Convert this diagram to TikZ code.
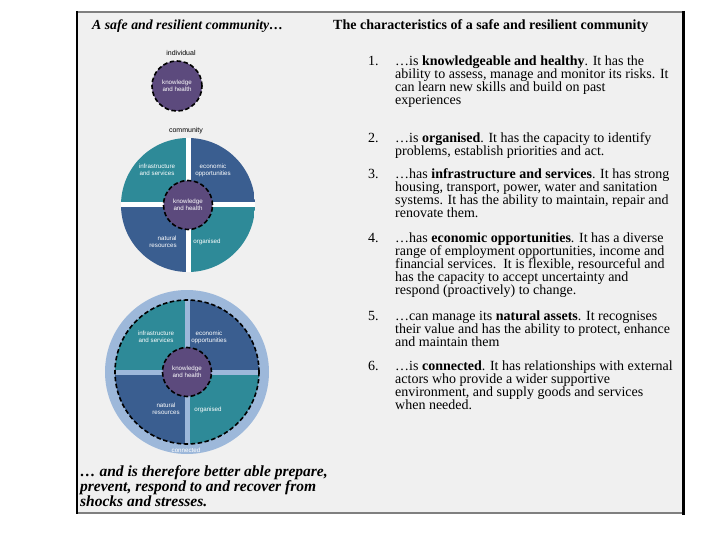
\documentclass[tikz,border=0pt]{standalone}
\usepackage{fontspec}
\setmainfont{Liberation Serif}
\newfontfamily\circfont{Liberation Sans}
\definecolor{pageback}{HTML}{F0F0F0}
\definecolor{framegray}{HTML}{7F7F7F}
\definecolor{corepurple}{HTML}{5C4A7D}
\definecolor{quadteal}{HTML}{2E8A98}
\definecolor{quadblue}{HTML}{3A5E90}
\definecolor{ringblue}{HTML}{9DB8DA}
\newcommand\itemstrut{\rule{0pt}{10pt}}
\newcommand\concstrut{\rule{0pt}{11.5pt}}
\begin{document}
\begin{tikzpicture}[x=1pt,y=-1pt,
  itemtext/.style={font=\fontsize{14}{13}\selectfont, align=left, anchor=north west, inner sep=0pt},
  numtext/.style={font=\fontsize{14}{13}\selectfont, anchor=north west, inner sep=0pt},
  titletext/.style={anchor=base west, inner sep=0pt},
  circlabel/.style={font=\circfont\fontsize{6.2}{6.8}\selectfont, text=white, align=center, inner sep=0pt},
  toplabel/.style={font=\circfont\fontsize{7}{8}\selectfont, inner sep=0pt},
  dashborder/.style={draw=black, line width=1.6pt, dash pattern=on 4.5pt off 2.5pt},
  coredisk/.style={circle, fill=corepurple, dashborder, minimum size=#1, inner sep=0pt},
  quaddisk/.style={circle, minimum size=#1, inner sep=0pt, path picture={
     \fill[quadteal] (path picture bounding box.center) rectangle (path picture bounding box.north west);
     \fill[quadblue] (path picture bounding box.center) rectangle (path picture bounding box.north east);
     \fill[quadblue] (path picture bounding box.center) rectangle (path picture bounding box.south west);
     \fill[quadteal] (path picture bounding box.center) rectangle (path picture bounding box.south east);}},
  gapline/.style={draw=#1, line width=5pt},
]
\useasboundingbox (0,0) rectangle (720,540);
\fill[white] (0,0) rectangle (720,540);
% frame
\fill[pageback] (77,12) rectangle (684,513);
\draw[framegray, line width=2pt] (77,12) -- (684,12);
\draw[framegray, line width=2.5pt] (77,513) -- (684,513);
\draw[black, line width=2pt] (77,11) -- (77,514);
\draw[black, line width=2.5pt] (683.5,11) -- (683.5,514.5);

% titles
\node[titletext, font=\fontsize{13.8}{15}\selectfont\bfseries\itshape] (lefttitle) at (92,30) {A safe and resilient community…};
\node[titletext, font=\fontsize{14}{15}\selectfont\bfseries] (righttitle) at (333,30) {The characteristics of a safe and resilient community};

% individual
\node[toplabel] (indivlabel) at (181,53) {individual};
\node[coredisk=50pt] (indiv) at (177,86) {};
\node[circlabel] (indivtext) at (indiv) {knowledge\\and health};

% community
\node[toplabel] (commlabel) at (186,131) {community};
\node[quaddisk=134pt] (comm) at (188,205) {};
\draw[gapline=white] (comm.north) -- (comm.south);
\draw[gapline=white] (comm.west) -- (comm.east);
\node[coredisk=49pt] (commcore) at (comm) {};
\node[circlabel] (commcoretext) at (comm) {knowledge\\and health};
\node[circlabel] (comminfra) at (157,170) {infrastructure\\and services};
\node[circlabel] (commecon) at (213,170) {economic\\opportunities};
\node[circlabel, align=right] (commnat) at (163,242) {natural\\resources};
\node[circlabel] (commorg) at (207,242) {organised};

% connected community
\node[circle, fill=ringblue, minimum size=164pt, inner sep=0pt] (ring) at (187,372) {};
\node[quaddisk=144pt] (disk) at (ring) {};
\draw[gapline=ringblue] (disk.north) -- (disk.south);
\draw[gapline=ringblue] (disk.west) -- (disk.east);
\node[circle, minimum size=144pt, inner sep=0pt, dashborder] (diskrim) at (ring) {};
\node[coredisk=49pt] (diskcore) at (ring) {};
\node[circlabel] (diskcoretext) at (ring) {knowledge\\and health};
\node[circlabel] (diskinfra) at (156,337) {infrastructure\\and services};
\node[circlabel] (diskecon) at (209,337) {economic\\opportunities};
\node[circlabel] (disknat) at (166,409) {natural\\resources};
\node[circlabel] (diskorg) at (208,410) {organised};
\node[circlabel] (ringtext) at (186,450) {connected};

% list
\node[numtext] (n1) at (368,55.5) {\itemstrut 1.};
\node[itemtext] (t1) at (395,55.5) {\itemstrut …is \textbf{knowledgeable and healthy}. It has the\\ability to assess, manage and monitor its risks. It\\can learn new skills and build on past\\experiences};
\node[numtext] (n2) at (368,132) {\itemstrut 2.};
\node[itemtext] (t2) at (395,132) {\itemstrut …is \textbf{organised}. It has the capacity to identify\\problems, establish priorities and act.};
\node[numtext] (n3) at (368,168.5) {\itemstrut 3.};
\node[itemtext] (t3) at (395,168.5) {\itemstrut …has \textbf{infrastructure and services}. It has strong\\housing, transport, power, water and sanitation\\systems. It has the ability to maintain, repair and\\renovate them.};
\node[numtext] (n4) at (368,232) {\itemstrut 4.};
\node[itemtext] (t4) at (395,232) {\itemstrut …has \textbf{economic opportunities}. It has a diverse\\range of employment opportunities, income and\\financial services.\ \ It is flexible, resourceful and\\has the capacity to accept uncertainty and\\respond (proactively) to change.};
\node[numtext] (n5) at (368,310) {\itemstrut 5.};
\node[itemtext] (t5) at (395,310) {\itemstrut …can manage its \textbf{natural assets}. It recognises\\their value and has the ability to protect, enhance\\and maintain them};
\node[numtext] (n6) at (368,360) {\itemstrut 6.};
\node[itemtext] (t6) at (395,360) {\itemstrut …is \textbf{connected}. It has relationships with external\\actors who provide a wider supportive\\environment, and supply goods and services\\when needed.};

% conclusion
\node[anchor=north west, inner sep=0pt, align=left, font=\fontsize{15.5}{14}\selectfont\bfseries\itshape] (conclusion) at (80,464.5) {\concstrut… and is therefore better able prepare,\\prevent, respond to and recover from\\shocks and stresses.};
\end{tikzpicture}
\end{document}
